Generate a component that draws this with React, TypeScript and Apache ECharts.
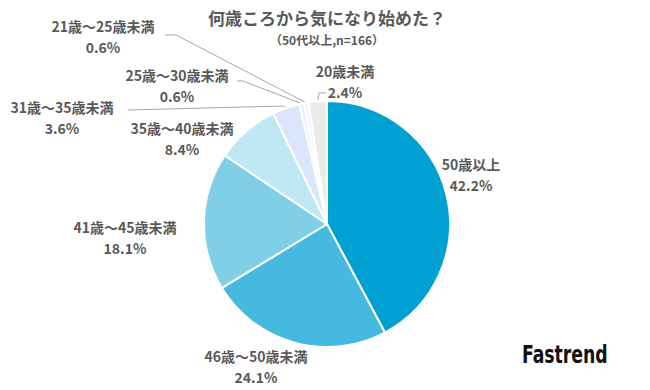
import React, { useEffect, useRef } from 'react';
import * as echarts from 'echarts';

const title = '何歳ころから気になり始めた？';
const subtitle = '（50代以上,n=166）';
const categories = [
  '50歳以上',
  '46歳～50歳未満',
  '41歳～45歳未満',
  '35歳～40歳未満',
  '31歳～35歳未満',
  '25歳～30歳未満',
  '21歳～25歳未満',
  '20歳未満',
];
const values = [42.2, 24.1, 18.1, 8.4, 3.6, 0.6, 0.6, 2.4];
const colors = ['#00a0d2', '#45b9df', '#80cfe6', '#c0e8f4', '#dbe5fb', '#e9effc', '#f2f5fd', '#ebebeb'];

// label placement (layout only)
const labelPos: [number, number][] = [
  [471, 174],
  [256, 366],
  [125, 237],
  [182, 138],
  [62, 117],
  [177, 85],
  [103, 36],
  [345, 81],
];
// leader line tail points near labels (layout only); null = no line
const linePts: ([number, number][] | null)[] = [
  null,
  null,
  null,
  null,
  [[283, 106], [128, 110]],
  [[243, 81], [237, 81]],
  [[176, 35], [165, 35]],
  [[319, 93], [326, 93]],
];

export default function App() {
  const ref = useRef<HTMLDivElement>(null);
  useEffect(() => {
    if (!ref.current) return;
    const chart = echarts.init(ref.current, undefined, { renderer: 'svg' });
    const labelColor = '#595959';
    const font = '"Noto Sans CJK JP", sans-serif';
    chart.setOption({
      animation: false,
      backgroundColor: '#ffffff',
      title: {
        text: title,
        subtext: subtitle,
        left: 327,
        top: 5,
        padding: 0,
        textAlign: 'center',
        itemGap: 2,
        textStyle: { color: labelColor, fontSize: 17, fontWeight: 'bold', fontFamily: font, lineHeight: 24 },
        subtextStyle: { color: labelColor, fontSize: 12, fontWeight: 'bold', fontFamily: font, lineHeight: 16 },
      },
      graphic: [
        {
          type: 'text',
          x: 522,
          y: 343,
          scaleX: 0.8,
          style: {
            text: 'Fastrend',
            fontSize: 24,
            fontWeight: 'bold',
            fontFamily: '"DejaVu Sans Condensed", sans-serif',
            fill: '#111111',
          },
        },
      ],
      series: [
        {
          type: 'pie',
          center: [327, 224],
          radius: 123,
          startAngle: 90,
          clockwise: true,
          itemStyle: { borderColor: '#ffffff', borderWidth: 2 },
          label: {
            show: true,
            formatter: '{b}\n{c}%',
            color: labelColor,
            fontSize: 14,
            fontWeight: 'bold',
            fontFamily: font,
            lineHeight: 21,
            align: 'center',
          },
          labelLine: { show: true, lineStyle: { color: '#a6a6a6', width: 1 } },
          labelLayout: (params: any) => {
            const i = params.dataIndex;
            const p = labelPos[i];
            const res: any = { x: p[0], y: p[1], align: 'center', verticalAlign: 'middle' };
            const lp = linePts[i];
            if (lp && params.labelLinePoints && params.labelLinePoints[0]) {
              res.labelLinePoints = [params.labelLinePoints[0], lp[0], lp[1]];
            }
            return res;
          },
          data: categories.map((name, i) => ({
            name,
            value: values[i],
            itemStyle: { color: colors[i] },
            labelLine: { show: linePts[i] !== null },
          })),
        },
      ],
    });
    return () => chart.dispose();
  }, []);
  return (
    <div
      ref={ref}
      style={{ position: 'fixed', left: 0, top: 0, width: 650, height: 390 }}
    />
  );
}
